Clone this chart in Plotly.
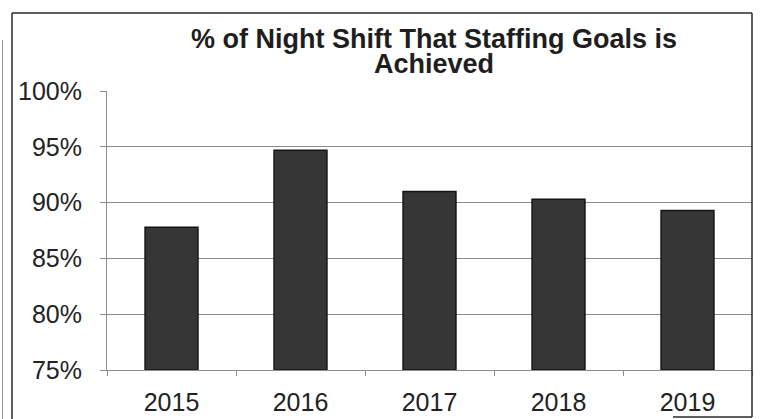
import plotly.graph_objects as go

# Share of night shifts on which the staffing goal was met, by year
years = ["2015", "2016", "2017", "2018", "2019"]
pct_achieved = [87.8, 94.7, 91.0, 90.3, 89.3]
y_ticks = [75, 80, 85, 90, 95, 100]
y_tick_text = ["75%", "80%", "85%", "90%", "95%", "100%"]
title_lines = ["% of Night Shift That Staffing Goals is", "Achieved"]

W, H = 760, 419
L, R, T, B = 107, 8, 91, 49
PW, PH = W - L - R, H - T - B


def px_x(px):
    return (px - L) / PW


def px_y(py):
    return (H - B - py) / PH


FONT = "Liberation Sans, Arial, Helvetica, sans-serif"
GRID = "#8c8c8c"

fig = go.Figure()
fig.add_trace(go.Bar(
    x=years,
    y=[v - 75 for v in pct_achieved],
    base=75,
    width=0.41,
    marker=dict(color="#363636", line=dict(color="#151515", width=1.5)),
    hoverinfo="skip",
))

fig.update_layout(
    width=W, height=H,
    margin=dict(l=L, r=R, t=T, b=B, autoexpand=False),
    paper_bgcolor="white",
    plot_bgcolor="white",
    showlegend=False,
    font=dict(family=FONT, color="#222222"),
    xaxis=dict(
        type="category",
        automargin=False,
        tickson="boundaries",
        ticks="outside", ticklen=5, tickcolor=GRID, tickwidth=1,
        showline=True, linecolor=GRID, linewidth=1,
        showgrid=False,
        tickfont=dict(size=25, color="#222222"),
        ticklabelstandoff=10,
    ),
    yaxis=dict(
        range=[75, 100],
        automargin=False,
        tickvals=y_ticks, ticktext=y_tick_text,
        ticks="outside", ticklen=6, tickcolor=GRID, tickwidth=1,
        showline=True, linecolor=GRID, linewidth=1,
        showgrid=True, gridcolor=GRID, gridwidth=1,
        zeroline=False,
        tickfont=dict(size=25, color="#222222"),
        ticklabelstandoff=13,
    ),
)

# Two-line bold title with tight leading; centres given in pixels
for text, mid_y in zip(title_lines, [39, 64.5]):
    fig.add_annotation(
        text=f"<b>{text}</b>", showarrow=False,
        xref="paper", yref="paper",
        x=px_x(434), y=px_y(mid_y),
        xanchor="center", yanchor="middle",
        font=dict(size=27, family=FONT, color="#1e1e1e"),
    )

# Frame around the chart
frame = dict(color="#2a2a2a", width=1.5)
shapes = [
    dict(x0=px_x(12), x1=px_x(752), y0=px_y(13), y1=px_y(13)),
    dict(x0=px_x(12), x1=px_x(12), y0=px_y(13), y1=px_y(419)),
    dict(x0=px_x(752), x1=px_x(752), y0=px_y(13), y1=px_y(417)),
    dict(x0=px_x(673), x1=px_x(752), y0=px_y(417), y1=px_y(417)),
]
for s in shapes:
    fig.add_shape(type="line", xref="paper", yref="paper", line=frame, **s)
fig.add_shape(type="line", xref="paper", yref="paper",
              x0=px_x(2.5), x1=px_x(2.5), y0=px_y(40), y1=px_y(419),
              line=dict(color="#9a9a9a", width=1))

fig.write_html("out.html")
